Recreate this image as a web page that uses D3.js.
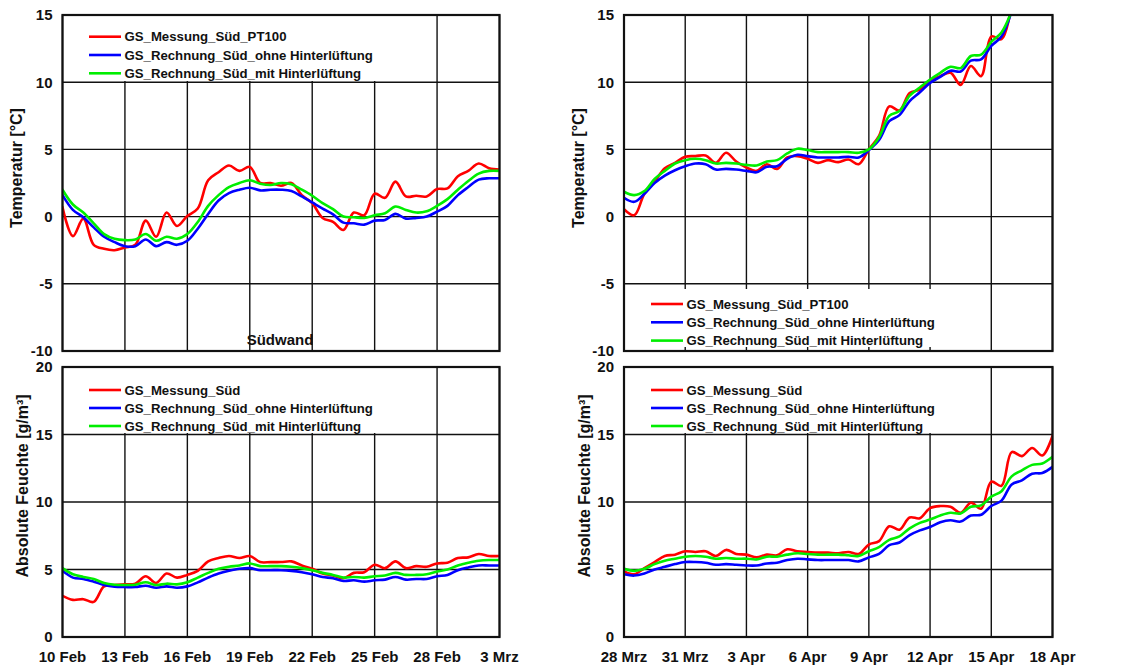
<!DOCTYPE html>
<html>
<head>
<meta charset="utf-8">
<script src="https://cdn.jsdelivr.net/npm/d3@7"></script>
<style>
  html, body { margin: 0; padding: 0; background: #fff; }
  svg { display: block; font-family: "Liberation Sans", Arial, sans-serif; }
</style>
</head>
<body>
<svg id="chart" width="1136" height="666"></svg>
<script>
// ---- Data: half-day samples, Südwand measurement vs. simulation ----
const STEP_HOURS = 12;
const winterStart = new Date(2011, 1, 10);   // 10 Feb
const springStart = new Date(2011, 2, 28);   // 28 Mrz
const spanDays = 21;
const tickEveryDays = 3;

const tempTicks = [-10, -5, 0, 5, 10, 15];
const humTicks = [0, 5, 10, 15, 20];

const seriesNamesTemp = ["GS_Messung_Süd_PT100", "GS_Rechnung_Süd_ohne Hinterlüftung", "GS_Rechnung_Süd_mit Hinterlüftung"];
const seriesNamesHum = ["GS_Messung_Süd", "GS_Rechnung_Süd_ohne Hinterlüftung", "GS_Rechnung_Süd_mit Hinterlüftung"];
const seriesColors = ["#ff0000", "#0000ff", "#00ee00"];

// Temperature, 10 Feb – 3 Mrz [°C]
const tempWinterMess = [0.7, -1.45, -0.15, -2.1, -2.4, -2.5, -2.3, -2.1, -0.3, -1.5, 0.3, -0.7, 0.05, 0.6, 2.7, 3.3, 3.8, 3.4, 3.7, 2.5, 2.5, 2.3, 2.5, 1.6, 1.0, -0.1, -0.4, -1.0, 0.3, 0.1, 1.7, 1.4, 2.6, 1.5, 1.55, 1.5, 2.05, 2.1, 3.0, 3.4, 3.95, 3.6, 3.5];
const tempWinterOhne = [1.6, 0.5, -0.05, -0.8, -1.5, -1.9, -2.2, -2.2, -1.7, -2.2, -1.9, -2.1, -1.8, -0.9, 0.2, 1.2, 1.75, 2.0, 2.15, 1.95, 2.0, 2.0, 1.9, 1.5, 1.05, 0.6, 0.17, -0.45, -0.5, -0.6, -0.3, -0.25, 0.2, -0.15, -0.1, 0.0, 0.37, 0.8, 1.6, 2.2, 2.75, 2.85, 2.85];
const tempWinterMit = [2.0, 0.9, 0.3, -0.5, -1.3, -1.65, -1.75, -1.7, -1.3, -1.8, -1.5, -1.65, -1.3, -0.4, 0.8, 1.6, 2.2, 2.5, 2.7, 2.45, 2.35, 2.5, 2.4, 2.0, 1.55, 1.0, 0.55, 0.0, -0.05, -0.1, 0.1, 0.25, 0.75, 0.5, 0.3, 0.4, 0.8, 1.3, 2.0, 2.65, 3.2, 3.4, 3.4];

// Temperature, 28 Mrz – 18 Apr [°C] (runs above the 15 °C limit after 16 Apr)
const tempSpringMess = [0.55, 0.1, 1.7, 2.6, 3.6, 4.0, 4.45, 4.5, 4.55, 4.0, 4.75, 4.1, 3.65, 3.4, 3.9, 3.55, 4.4, 4.5, 4.3, 4.0, 4.2, 4.05, 4.25, 3.9, 5.0, 6.0, 8.2, 7.9, 9.2, 9.45, 10.1, 10.45, 10.7, 9.8, 11.2, 10.45, 13.4, 13.2, 15.8];
const tempSpringOhne = [1.4, 1.1, 1.7, 2.5, 3.05, 3.45, 3.75, 3.95, 3.9, 3.5, 3.55, 3.5, 3.4, 3.3, 3.7, 3.75, 4.3, 4.6, 4.5, 4.4, 4.4, 4.4, 4.45, 4.4, 4.95, 5.7, 7.1, 7.55, 8.6, 9.25, 9.95, 10.4, 10.85, 10.8, 11.6, 11.7, 12.7, 13.4, 15.3];
const tempSpringMit = [1.85, 1.6, 1.9, 2.8, 3.4, 3.95, 4.2, 4.3, 4.2, 3.95, 4.0, 3.95, 3.85, 3.8, 4.1, 4.2, 4.7, 5.05, 4.95, 4.8, 4.8, 4.8, 4.8, 4.75, 5.0, 5.9, 7.5, 7.85, 9.0, 9.6, 10.2, 10.7, 11.15, 11.05, 11.95, 12.05, 13.0, 13.7, 15.3];

// Absolute humidity, 10 Feb – 3 Mrz [g/m³]
const humWinterMess = [3.05, 2.75, 2.8, 2.6, 3.75, 3.85, 3.9, 3.95, 4.5, 4.0, 4.7, 4.4, 4.6, 4.9, 5.6, 5.85, 6.0, 5.85, 6.0, 5.55, 5.55, 5.55, 5.6, 5.3, 5.05, 4.7, 4.55, 4.35, 4.75, 4.8, 5.35, 5.1, 5.6, 5.1, 5.25, 5.2, 5.45, 5.5, 5.85, 5.9, 6.15, 6.0, 6.0];
const humWinterOhne = [4.9, 4.4, 4.3, 4.1, 3.85, 3.72, 3.7, 3.7, 3.8, 3.65, 3.75, 3.65, 3.75, 4.05, 4.4, 4.7, 4.9, 5.05, 5.1, 4.95, 4.95, 4.95, 4.9, 4.8, 4.65, 4.45, 4.35, 4.15, 4.2, 4.1, 4.2, 4.25, 4.45, 4.25, 4.3, 4.3, 4.5, 4.6, 4.95, 5.15, 5.3, 5.3, 5.3];
const humWinterMit = [5.1, 4.65, 4.45, 4.3, 4.0, 3.87, 3.85, 3.87, 4.05, 3.85, 3.95, 3.9, 4.05, 4.4, 4.75, 5.05, 5.2, 5.3, 5.45, 5.25, 5.25, 5.25, 5.2, 5.1, 4.95, 4.75, 4.6, 4.4, 4.45, 4.4, 4.5, 4.55, 4.75, 4.6, 4.6, 4.65, 4.85, 5.0, 5.3, 5.5, 5.65, 5.7, 5.7];

// Absolute humidity, 28 Mrz – 18 Apr [g/m³]
const humSpringMess = [4.85, 4.65, 5.1, 5.55, 6.0, 6.1, 6.35, 6.3, 6.35, 6.0, 6.45, 6.15, 6.1, 5.9, 6.1, 6.05, 6.5, 6.35, 6.3, 6.25, 6.25, 6.2, 6.3, 6.15, 6.85, 7.1, 8.2, 7.95, 8.85, 8.8, 9.55, 9.7, 9.65, 9.2, 9.95, 9.5, 11.5, 11.2, 13.7, 13.4, 14.0, 13.45, 14.9];
const humSpringOhne = [4.65, 4.55, 4.7, 5.0, 5.2, 5.4, 5.55, 5.55, 5.5, 5.35, 5.4, 5.35, 5.3, 5.3, 5.45, 5.5, 5.7, 5.8, 5.75, 5.7, 5.7, 5.7, 5.7, 5.6, 5.9, 6.15, 6.8, 7.0, 7.55, 7.9, 8.15, 8.5, 8.65, 8.55, 9.0, 9.05, 9.7, 10.1, 11.3, 11.6, 12.1, 12.15, 12.6];
const humSpringMit = [5.05, 4.9, 5.05, 5.4, 5.65, 5.8, 5.95, 6.0, 5.95, 5.8, 5.85, 5.8, 5.8, 5.75, 5.95, 5.95, 6.1, 6.2, 6.15, 6.1, 6.1, 6.1, 6.05, 6.0, 6.35, 6.65, 7.2, 7.45, 8.05, 8.45, 8.7, 9.0, 9.2, 9.15, 9.65, 9.75, 10.4, 10.8, 11.9, 12.35, 12.75, 12.85, 13.35];

// ---- German short month names for the date axis ----
const deLocale = d3.timeFormatLocale({
  dateTime: "%A, %e. %B %Y, %X", date: "%d.%m.%Y", time: "%H:%M:%S",
  periods: ["AM", "PM"],
  days: ["Sonntag", "Montag", "Dienstag", "Mittwoch", "Donnerstag", "Freitag", "Samstag"],
  shortDays: ["So", "Mo", "Di", "Mi", "Do", "Fr", "Sa"],
  months: ["Januar", "Februar", "März", "April", "Mai", "Juni", "Juli", "August", "September", "Oktober", "November", "Dezember"],
  shortMonths: ["Jan", "Feb", "Mrz", "Apr", "Mai", "Jun", "Jul", "Aug", "Sep", "Okt", "Nov", "Dez"]
});
const fmtDate = deLocale.format("%-d %b");

const svg = d3.select("#chart");

function toPoints(start, values) {
  return values.map((v, i) => ({ t: d3.timeHour.offset(start, i * STEP_HOURS), v }));
}

let clipId = 0;
function drawPanel(cfg) {
  const { left, right, top, bottom, start, yDomain, yTicks, series, names, yTitle, titleX, legend, showDates, note } = cfg;
  const end = d3.timeDay.offset(start, spanDays);
  const x = d3.scaleTime().domain([start, end]).range([left, right]);
  const y = d3.scaleLinear().domain(yDomain).range([bottom, top]);
  const g = svg.append("g");
  const xTicks = d3.range(0, spanDays + 1, tickEveryDays).map(d => d3.timeDay.offset(start, d));

  // grid
  g.append("g").selectAll("line").data(yTicks).join("line")
    .attr("x1", left).attr("x2", right)
    .attr("y1", d => y(d)).attr("y2", d => y(d))
    .attr("stroke", "#111").attr("stroke-width", 1.4);
  g.append("g").selectAll("line").data(xTicks).join("line")
    .attr("x1", d => x(d)).attr("x2", d => x(d))
    .attr("y1", top).attr("y2", bottom)
    .attr("stroke", "#111").attr("stroke-width", 1.4);

  // legend background
  g.append("rect")
    .attr("x", legend.box[0]).attr("y", legend.box[1])
    .attr("width", legend.box[2]).attr("height", legend.box[3])
    .attr("fill", "#fff");

  // y tick labels
  g.append("g").selectAll("text").data(yTicks).join("text")
    .attr("x", left - 10).attr("y", d => y(d)).attr("dy", "0.36em")
    .attr("text-anchor", "end").attr("font-size", 15).attr("font-weight", "bold")
    .attr("fill", "#111").text(d => d);

  // x tick labels
  if (showDates) {
    g.append("g").selectAll("text").data(xTicks).join("text")
      .attr("x", d => x(d)).attr("y", bottom + 24.5)
      .attr("text-anchor", "middle").attr("font-size", 15).attr("font-weight", "bold")
      .attr("fill", "#111").text(d => fmtDate(d));
  }

  // y axis title
  g.append("text")
    .attr("transform", `translate(${titleX},${(top + bottom) / 2 + cfg.titleShift}) rotate(-90)`)
    .attr("text-anchor", "middle").attr("font-size", 16).attr("font-weight", "bold")
    .attr("fill", "#111").text(yTitle);

  if (note) {
    g.append("text").attr("x", note.x).attr("y", note.y)
      .attr("text-anchor", "middle").attr("font-size", 15).attr("font-weight", "bold")
      .attr("fill", "#111").text(note.text);
  }

  // series
  const id = "clip" + (clipId++);
  svg.append("clipPath").attr("id", id).append("rect")
    .attr("x", left).attr("y", top).attr("width", right - left).attr("height", bottom - top);
  const line = d3.line().x(d => x(d.t)).y(d => y(d.v)).curve(d3.curveCatmullRom.alpha(0.5));
  const lg = g.append("g").attr("clip-path", `url(#${id})`);
  series.forEach((vals, i) => {
    lg.append("path").datum(toPoints(start, vals))
      .attr("d", line).attr("fill", "none")
      .attr("stroke", seriesColors[i]).attr("stroke-width", 2.6)
      .attr("stroke-linejoin", "round").attr("stroke-linecap", "round");
  });

  // frame
  g.append("rect").attr("x", left).attr("y", top)
    .attr("width", right - left).attr("height", bottom - top)
    .attr("fill", "none").attr("stroke", "#111").attr("stroke-width", 2.2);

  // legend
  const lgd = g.append("g");
  names.forEach((n, i) => {
    const yy = legend.y + i * legend.dy;
    lgd.append("line").attr("x1", legend.x).attr("x2", legend.x + 32)
      .attr("y1", yy).attr("y2", yy)
      .attr("stroke", seriesColors[i]).attr("stroke-width", 2.6);
    lgd.append("text").attr("x", legend.x + 35.5).attr("y", yy).attr("dy", "0.36em")
      .attr("font-size", 13.2).attr("font-weight", "bold").attr("fill", "#111").text(n);
  });
}

const L = { left: 62.5, right: 499.5 };
const R = { left: 624, right: 1052.5 };
const T = { top: 15, bottom: 351 };
const B = { top: 367, bottom: 637 };

drawPanel({ ...L, ...T, start: winterStart, yDomain: [-10, 15], yTicks: tempTicks,
  series: [tempWinterMess, tempWinterOhne, tempWinterMit], names: seriesNamesTemp,
  yTitle: "Temperatur [°C]", titleX: 22, titleShift: -15, showDates: false,
  legend: { box: [84, 16, 298, 65], x: 89, y: 36.7, dy: 18.3 },
  note: { x: 280, y: 345, text: "Südwand" } });

drawPanel({ ...R, ...T, start: springStart, yDomain: [-10, 15], yTicks: tempTicks,
  series: [tempSpringMess, tempSpringOhne, tempSpringMit], names: seriesNamesTemp,
  yTitle: "Temperatur [°C]", titleX: 584, titleShift: -15, showDates: false,
  legend: { box: [645, 289, 296, 58], x: 651, y: 304, dy: 18.3 } });

drawPanel({ ...L, ...B, start: winterStart, yDomain: [0, 20], yTicks: humTicks,
  series: [humWinterMess, humWinterOhne, humWinterMit], names: seriesNamesHum,
  yTitle: "Absolute Feuchte [g/m³]", titleX: 28, titleShift: -16, showDates: true,
  legend: { box: [84, 368, 298, 65], x: 89, y: 390, dy: 18 } });

drawPanel({ ...R, ...B, start: springStart, yDomain: [0, 20], yTicks: humTicks,
  series: [humSpringMess, humSpringOhne, humSpringMit], names: seriesNamesHum,
  yTitle: "Absolute Feuchte [g/m³]", titleX: 590, titleShift: -16, showDates: true,
  legend: { box: [645, 368, 296, 65], x: 651, y: 390, dy: 18 } });
</script>
</body>
</html>
